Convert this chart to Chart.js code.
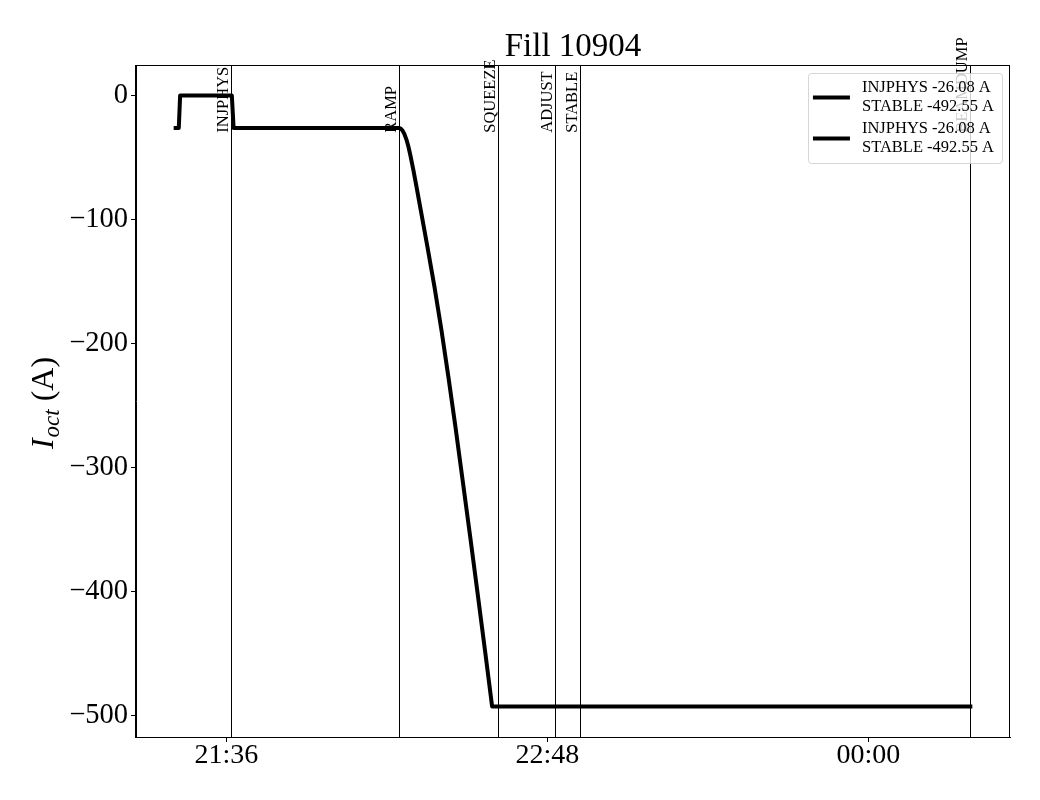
<!DOCTYPE html>
<html><head><meta charset="utf-8">
<script src="https://cdn.jsdelivr.net/npm/chart.js@4.4.0/dist/chart.umd.min.js"></script>
<style>html,body{margin:0;padding:0;background:#fff}#wrap{width:1040px;height:800px}</style>
</head><body><div id="wrap"><canvas id="c" width="1040" height="800"></canvas></div>
<script>
// ---- data (time in minutes since midnight of the fill start day) ----
const TITLE = 'Fill 10904';
const timeMin = [1284.6, 1285.3, 1285.6, 1297.2, 1297.6, 1334.6, 1335.03, 1335.48, 1335.93, 1336.38, 1336.83, 1337.27, 1337.95, 1338.62, 1339.52, 1341.09, 1342.66, 1344.23, 1345.80, 1347.37, 1348.94, 1350.73, 1352.30, 1354.10, 1355.60, 1462.9];
const currentA = [-26.08, -26.08, 0, 0, -26.08, -26.08, -26.5, -28.1, -31.1, -35.5, -41.3, -48.3, -60.3, -73.2, -91, -122, -154, -189, -227, -267, -309, -357, -400, -450, -492.55, -492.55];
const eventNames = ['INJPHYS', 'RAMP', 'SQUEEZE', 'ADJUST', 'STABLE', 'BEAMDUMP'];
const eventTimes = [1297.0, 1334.6, 1357.0, 1369.8, 1375.4, 1462.9];
const xTickValues = [1296, 1368, 1440];
const yTickValues = [-500, -400, -300, -200, -100, 0];
const xRange = [1275.7, 1471.8];
const yRange = [-517.18, 24.63];
const legendEntries = [['INJPHYS -26.08 A', 'STABLE -492.55 A'], ['INJPHYS -26.08 A', 'STABLE -492.55 A']];

const SERIF = '"Liberation Serif", "DejaVu Serif", serif';
const points = timeMin.map((t, i) => ({x: t, y: currentA[i]}));

function fmtTime(v) {
  const m = ((Math.round(v) % 1440) + 1440) % 1440;
  const h = Math.floor(m / 60), mm = m % 60;
  return String(h).padStart(2, '0') + ':' + String(mm).padStart(2, '0');
}

const overlay = {
  id: 'overlay',
  beforeDatasetsDraw(chart) {
    const {ctx, chartArea: a, scales: {x}} = chart;
    ctx.save();
    ctx.strokeStyle = '#000';
    ctx.lineWidth = 1;
    eventTimes.forEach(t => {
      const px = Math.round(x.getPixelForValue(t)) + 0.5;
      ctx.beginPath(); ctx.moveTo(px, a.top); ctx.lineTo(px, a.bottom); ctx.stroke();
    });
    ctx.restore();
  },
  afterDatasetsDraw(chart) {
    const {ctx, chartArea: a, scales: {x, y}} = chart;
    ctx.save();
    ctx.fillStyle = '#000';
    ctx.font = '16.5px ' + SERIF;
    ctx.textAlign = 'left';
    ctx.textBaseline = 'alphabetic';
    const yb = y.getPixelForValue(-30);
    eventTimes.forEach((t, i) => {
      const px = x.getPixelForValue(t);
      ctx.save();
      ctx.translate(px - 3, yb);
      ctx.rotate(-Math.PI / 2);
      ctx.fillText(eventNames[i], 0, 0);
      ctx.restore();
    });
    // frame
    ctx.strokeStyle = '#000';
    ctx.lineWidth = 1;
    ctx.strokeRect(Math.round(a.left) - 0.5, Math.round(a.top) + 0.5, Math.round(a.right - a.left), Math.round(a.bottom - a.top));
    ctx.restore();
  },
  afterDraw(chart) {
    const {ctx, chartArea: a} = chart;
    ctx.save();
    ctx.fillStyle = '#000';
    // title
    ctx.font = '33px ' + SERIF;
    ctx.textAlign = 'center';
    ctx.textBaseline = 'middle';
    ctx.fillText(TITLE, (a.left + a.right) / 2, 47);
    // y label
    ctx.save();
    ctx.translate(53, (a.top + a.bottom) / 2 + 2);
    ctx.rotate(-Math.PI / 2);
    ctx.textAlign = 'left';
    ctx.textBaseline = 'alphabetic';
    const fI = 'italic 32px ' + SERIF, fS = 'italic 23px ' + SERIF, fN = '32px ' + SERIF;
    ctx.font = fI; const wI = ctx.measureText('I').width + 1;
    ctx.font = fS; const wS = ctx.measureText('oct').width;
    ctx.font = fN; const wN = ctx.measureText(' (A)').width;
    let sx = -(wI + wS + wN) / 2;
    ctx.font = fI; ctx.fillText('I', sx, 0); sx += wI;
    ctx.font = fS; ctx.fillText('oct', sx, 6); sx += wS;
    ctx.font = fN; ctx.fillText(' (A)', sx, 0);
    ctx.restore();
    // legend
    ctx.font = '16.5px ' + SERIF;
    let tw = 0;
    legendEntries.forEach(e => e.forEach(s => { tw = Math.max(tw, ctx.measureText(s).width); }));
    const right = a.right - 8, top = a.top + 8;
    const w = 5 + 37 + 12 + tw + 8, h = 90;
    const left = right - w;
    ctx.beginPath();
    ctx.roundRect(Math.round(left) + 0.5, Math.round(top) + 0.5, Math.round(w), h, 3);
    ctx.fillStyle = 'rgba(255,255,255,0.8)';
    ctx.fill();
    ctx.strokeStyle = 'rgba(204,204,204,0.8)';
    ctx.lineWidth = 1;
    ctx.stroke();
    ctx.fillStyle = '#000';
    ctx.strokeStyle = '#000';
    ctx.lineWidth = 4;
    ctx.textAlign = 'left';
    ctx.textBaseline = 'middle';
    legendEntries.forEach((e, i) => {
      const base = top + 14.5 + i * 41;
      ctx.beginPath();
      ctx.moveTo(left + 5, base + 10); ctx.lineTo(left + 42, base + 10); ctx.stroke();
      e.forEach((s, j) => ctx.fillText(s, left + 54, base + j * 19.5));
    });
    ctx.restore();
  }
};

new Chart(document.getElementById('c'), {
  type: 'line',
  data: {
    datasets: [{
      data: points,
      borderColor: '#000',
      borderWidth: 4,
      pointRadius: 0,
      tension: 0,
      fill: false,
      borderCapStyle: 'square',
      borderJoinStyle: 'round'
    }]
  },
  options: {
    responsive: false,
    animation: false,
    devicePixelRatio: 1,
    layout: {padding: {top: 65, right: 30, left: 0, bottom: 0}},
    plugins: {legend: {display: false}, title: {display: false}, tooltip: {enabled: false}},
    scales: {
      x: {
        type: 'linear',
        min: xRange[0], max: xRange[1],
        afterBuildTicks: s => { s.ticks = xTickValues.map(v => ({value: v})); },
        afterFit: s => { s.height = 63; },
        grid: {display: true, drawOnChartArea: false, drawTicks: true, tickLength: 5, color: '#000', lineWidth: 1},
        border: {display: true, color: '#000', width: 1},
        ticks: {color: '#000', font: {family: SERIF, size: 28, lineHeight: 1}, padding: 0, maxRotation: 0, callback: v => fmtTime(v)}
      },
      y: {
        type: 'linear',
        min: yRange[0], max: yRange[1],
        afterBuildTicks: s => { s.ticks = yTickValues.map(v => ({value: v})); },
        afterFit: s => { s.width = 136; },
        grid: {display: true, drawOnChartArea: false, drawTicks: true, tickLength: 5, color: '#000', lineWidth: 1},
        border: {display: true, color: '#000', width: 1},
        ticks: {color: '#000', font: {family: SERIF, size: 28.5}, padding: 3, callback: v => (v < 0 ? '\u2212' + Math.abs(v) : String(v))}
      }
    }
  },
  plugins: [overlay]
});
</script>
</body></html>
